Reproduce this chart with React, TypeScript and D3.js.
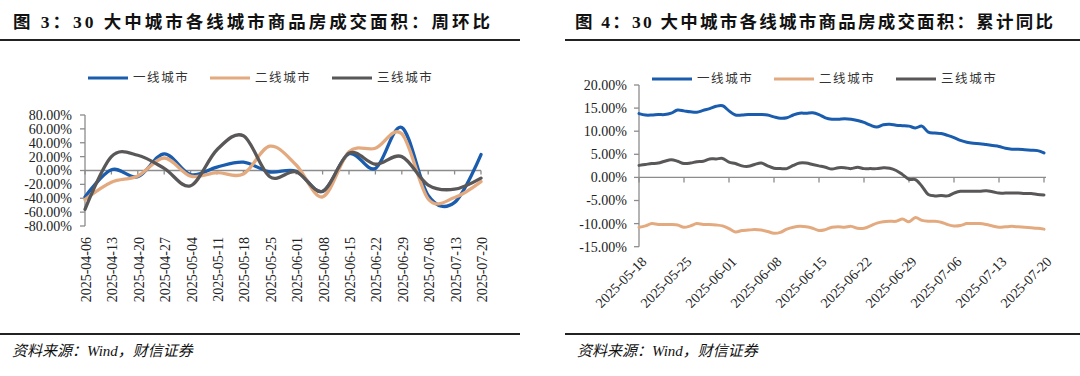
import React from "react";
import * as d3 from "d3";

// ---------- Left chart: weekly WoW (%) ----------
const weeks = [
  "2025-04-06", "2025-04-13", "2025-04-20", "2025-04-27", "2025-05-04", "2025-05-11",
  "2025-05-18", "2025-05-25", "2025-06-01", "2025-06-08", "2025-06-15", "2025-06-22",
  "2025-06-29", "2025-07-06", "2025-07-13", "2025-07-20",
];
const tier1Wow = [-38, 1, -9, 24, -6, 5, 12, -2, -1, -30, 24, 3, 62, -36, -46, 23];
const tier2Wow = [-42, -17, -8, 18, -8, -3, -5, 35, 8, -38, 27, 32, 53, -41, -39, -16];
const tier3Wow = [-56, 20, 22, 3, -22, 30, 50, -9, -2, -30, 25, 9, 20, -21, -27, -11];
const leftYTicks = [80, 60, 40, 20, 0, -20, -40, -60, -80];

// ---------- Right chart: daily cumulative YoY (%) ----------
const ytdStart = "2025-05-18";
const tier1Ytd = [
  13.8, 13.5, 13.5, 13.6, 13.6, 13.9, 14.6, 14.4, 14.2, 14.1, 14.5, 14.9, 15.4, 15.5, 14.4, 13.5,
  13.5, 13.6, 13.6, 13.6, 13.5, 13.1, 12.8, 12.9, 13.5, 13.9, 13.9, 14.0, 13.6, 12.9, 12.6, 12.6,
  12.7, 12.6, 12.3, 11.9, 11.3, 10.9, 11.4, 11.5, 11.3, 11.2, 11.1, 10.7, 11.1, 9.8, 9.6, 9.5,
  9.1, 8.6, 8.0, 7.6, 7.4, 7.3, 7.1, 6.9, 6.7, 6.3, 6.1, 6.1, 6.0, 5.9, 5.8, 5.3,
];
const tier2Ytd = [
  -10.8, -10.5, -10.0, -10.2, -10.2, -10.2, -10.3, -10.8, -10.5, -10.0, -10.2, -10.2, -10.3, -10.5, -11.1, -11.8,
  -11.5, -11.4, -11.3, -11.4, -11.7, -12.1, -11.9, -11.2, -10.8, -10.6, -10.7, -11.0, -11.5, -11.3, -10.8, -10.7,
  -10.8, -10.6, -11.0, -11.0, -10.5, -9.9, -9.6, -9.5, -9.5, -9.0, -9.6, -8.7, -9.3, -9.5, -9.5, -9.7,
  -10.2, -10.5, -10.4, -10.0, -10.0, -10.0, -10.2, -10.5, -10.8, -10.7, -10.6, -10.7, -10.8, -10.9, -11.0, -11.2,
];
const tier3Ytd = [
  2.6, 2.8, 3.0, 3.1, 3.5, 3.8, 3.5, 3.0, 3.1, 3.4, 3.5, 4.0, 4.0, 4.1, 3.3, 3.0,
  2.5, 2.4, 2.8, 3.1, 2.5, 2.0, 1.9, 1.9, 2.6, 3.1, 3.1, 2.8, 2.5, 2.2, 1.8, 2.1,
  2.1, 1.9, 2.2, 1.9, 1.9, 1.9, 2.1, 2.0, 1.5, 0.6, -0.4, -0.5, -1.9, -3.7, -4.0, -3.9,
  -4.0, -3.4, -3.0, -3.0, -3.0, -3.0, -2.9, -3.1, -3.4, -3.4, -3.4, -3.4, -3.5, -3.5, -3.7, -3.8,
];
const rightXTicks = [
  "2025-05-18", "2025-05-25", "2025-06-01", "2025-06-08", "2025-06-15",
  "2025-06-22", "2025-06-29", "2025-07-06", "2025-07-13", "2025-07-20",
];
const rightYTicks = [20, 15, 10, 5, 0, -5, -10, -15];

const seriesNames = ["一线城市", "二线城市", "三线城市"];
const COLORS = ["#1a5cad", "#e3aa80", "#595757"];
const AXIS = "#8c8c8c";
const TEXT = "#222";
const SERIF = "'Liberation Serif', 'Times New Roman', 'Noto Sans CJK SC', serif";
const CJK = "'Liberation Serif', 'Noto Sans CJK SC', serif";

const parse = d3.timeParse("%Y-%m-%d");

function Legend({ x0, y }: { x0: number; y: number }) {
  return (
    <g>
      {seriesNames.map((n, i) => (
        <g key={n} transform={`translate(${x0 + i * 122},${y})`}>
          <line x1={0} x2={40} y1={0} y2={0} stroke={COLORS[i]} strokeWidth={3} />
          <text x={45} y={0} dy="0.35em" fontSize={12.5} fill="#333" fontFamily={CJK} letterSpacing={1.6}>
            {n}
          </text>
        </g>
      ))}
    </g>
  );
}

function Header({ x, lineX1, lineX2, title, width }: { x: number; lineX1: number; lineX2: number; title: string; width: number }) {
  return (
    <g>
      <text x={x} y={22} dy="0.35em" fontSize={17.5} fontWeight={700} fill="#111" fontFamily={CJK}
        textLength={width} lengthAdjust="spacing">
        {title}
      </text>
      <line x1={lineX1} x2={lineX2} y1={40} y2={40} stroke="#222" strokeWidth={2} />
    </g>
  );
}

function Footer({ x, lineX1, lineX2 }: { x: number; lineX1: number; lineX2: number }) {
  return (
    <g>
      <line x1={lineX1} x2={lineX2} y1={334} y2={334} stroke="#222" strokeWidth={2} />
      <text x={x} y={351} dy="0.35em" fontSize={15} fontStyle="italic" fill="#111" fontFamily={CJK}>
        资料来源：Wind，财信证券
      </text>
    </g>
  );
}

function LeftChart() {
  const x = d3.scalePoint<string>().domain(weeks).range([85, 481]);
  const y = d3.scaleLinear().domain([-80, 80]).range([226, 115]);
  const line = d3
    .line<number>()
    .x((_, i) => x(weeks[i]) as number)
    .y((d) => y(d))
    .curve(d3.curveCardinal.tension(0));
  const series = [tier1Wow, tier2Wow, tier3Wow];
  return (
    <g>
      <line x1={85} x2={85} y1={y(80)} y2={y(-80)} stroke={AXIS} strokeWidth={1.3} />
      {leftYTicks.map((t) => (
        <g key={t}>
          <line x1={80} x2={85} y1={y(t)} y2={y(t)} stroke={AXIS} strokeWidth={1.3} />
          <text x={72} y={y(t)} dy="0.35em" textAnchor="end" fontSize={14} fill={TEXT} fontFamily={SERIF}>
            {t.toFixed(2)}%
          </text>
        </g>
      ))}
      <line x1={85} x2={481} y1={y(0)} y2={y(0)} stroke={AXIS} strokeWidth={1.3} />
      {weeks.map((w) => (
        <line key={w} x1={x(w)} x2={x(w)} y1={y(0)} y2={y(0) + 4} stroke={AXIS} strokeWidth={1.3} />
      ))}
      {weeks.map((w) => (
        <text key={w} transform={`translate(${x(w)! + 1},237) rotate(-90)`} dy="0.35em" textAnchor="end"
          fontSize={14} fill={TEXT} fontFamily={SERIF}>
          {w}
        </text>
      ))}
      {series.map((s, i) => (
        <path key={i} d={line(s) as string} fill="none" stroke={COLORS[i]} strokeWidth={3.3}
          strokeLinejoin="round" strokeLinecap="round" />
      ))}
    </g>
  );
}

function RightChart() {
  const start = parse(ytdStart)!;
  const dates = tier1Ytd.map((_, i) => d3.timeDay.offset(start, i));
  const x = d3.scaleTime().domain([start, parse("2025-07-20")!]).range([639, 1044]);
  const y = d3.scaleLinear().domain([-15, 20]).range([246.7, 85]);
  const line = d3
    .line<number>()
    .x((_, i) => x(dates[i]))
    .y((d) => y(d))
    .curve(d3.curveCatmullRom);
  const series = [tier1Ytd, tier2Ytd, tier3Ytd];
  return (
    <g>
      <line x1={639} x2={639} y1={y(20)} y2={y(-15)} stroke={AXIS} strokeWidth={1.3} />
      {rightYTicks.map((t) => (
        <g key={t}>
          <line x1={634} x2={639} y1={y(t)} y2={y(t)} stroke={AXIS} strokeWidth={1.3} />
          <text x={627} y={y(t)} dy="0.35em" textAnchor="end" fontSize={14} fill={TEXT} fontFamily={SERIF}>
            {t.toFixed(2)}%
          </text>
        </g>
      ))}
      <line x1={639} x2={1046} y1={y(0)} y2={y(0)} stroke={AXIS} strokeWidth={1.3} />
      {rightXTicks.map((d) => {
        const xx = x(parse(d)!);
        return (
          <g key={d}>
            <line x1={xx} x2={xx} y1={y(0)} y2={y(0) + 5} stroke={AXIS} strokeWidth={1.3} />
            <text transform={`translate(${xx + 5},259) rotate(-45)`} dy="0.35em" textAnchor="end"
              fontSize={14} fill={TEXT} fontFamily={SERIF}>
              {d}
            </text>
          </g>
        );
      })}
      {series.map((s, i) => (
        <path key={i} d={line(s) as string} fill="none" stroke={COLORS[i]} strokeWidth={3}
          strokeLinejoin="round" strokeLinecap="round" />
      ))}
    </g>
  );
}

export default function App() {
  return (
    <svg width={1080} height={376} style={{ position: "absolute", left: 0, top: 0, background: "#fff" }}>
      <rect width={1080} height={376} fill="#fff" />
      <Header x={13} lineX1={0} lineX2={520} width={477} title="图 3：30 大中城市各线城市商品房成交面积：周环比" />
      <Header x={575} lineX1={565} lineX2={1080} width={478} title="图 4：30 大中城市各线城市商品房成交面积：累计同比" />
      <Legend x0={88} y={78} />
      <Legend x0={652} y={79} />
      <LeftChart />
      <RightChart />
      <Footer x={12} lineX1={0} lineX2={520} />
      <Footer x={577} lineX1={565} lineX2={1080} />
    </svg>
  );
}
